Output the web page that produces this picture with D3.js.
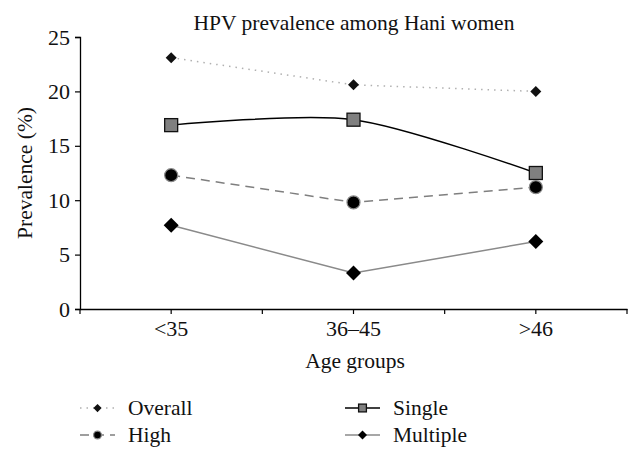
<!DOCTYPE html>
<html><head><meta charset="utf-8">
<script src="https://cdn.jsdelivr.net/npm/d3@7"></script>
<style>body{margin:0;background:#fff}svg{display:block}</style>
</head><body><svg id="c" width="642" height="460"></svg>
<script>
const categories = ["<35", "36\u201345", ">46"];
const overall = [23.1, 20.6, 20.0];
const single = [16.9, 17.4, 12.5];
const high = [12.3, 9.8, 11.2];
const multiple = [7.7, 3.3, 6.2];
const yTicks = [0, 5, 10, 15, 20, 25];

const FONT = "'Liberation Serif', 'DejaVu Serif', serif";
const svg = d3.select("#c");
const x = d3.scaleBand().domain(categories).range([80, 627]);
const y = d3.scaleLinear().domain([0, 25]).range([309, 37]);
const cx = d => x(d) + x.bandwidth() / 2;

function txt(sel, size) {
  return sel.style("font-family", FONT).style("font-size", size + "px").style("fill", "#111");
}

txt(svg.append("text").attr("x", 354).attr("y", 30).attr("text-anchor", "middle"), 21.5)
  .text("HPV prevalence among Hani women");

const ya = svg.append("g").attr("transform", "translate(80,0)")
  .call(d3.axisLeft(y).tickValues(yTicks).tickSize(5).tickPadding(5));
ya.select(".domain").attr("stroke", "#000").attr("stroke-width", 1.3);
ya.selectAll(".tick line").attr("stroke", "#000").attr("stroke-width", 1.2);
txt(ya.selectAll(".tick text"), 22);

const xa = svg.append("g").attr("transform", "translate(0,309)")
  .call(d3.axisBottom(x).tickSize(0).tickPadding(11));
xa.select(".domain").attr("stroke", "#000").attr("stroke-width", 1.5);
txt(xa.selectAll(".tick text"), 22).attr("dy", "0.71em");
const bounds = [80].concat(categories.map(c => x(c) + x.bandwidth()));
xa.selectAll(".bt").data(bounds).enter().append("line")
  .attr("x1", d => d).attr("x2", d => d).attr("y1", 0).attr("y2", 5)
  .attr("stroke", "#000").attr("stroke-width", 1.2);
xa.selectAll(".ct").data(categories).enter().append("line")
  .attr("x1", d => cx(d)).attr("x2", d => cx(d)).attr("y1", 0).attr("y2", 5)
  .attr("stroke", "#000").attr("stroke-width", 1.2);

txt(svg.append("text").attr("transform", "translate(32,173) rotate(-90)")
  .attr("text-anchor", "middle"), 21.5).text("Prevalence (%)");
txt(svg.append("text").attr("x", 355).attr("y", 368).attr("text-anchor", "middle"), 21.5)
  .text("Age groups");

const series = [
  {name: "Overall", vals: overall, stroke: "#b0b0b0", dash: "1.5,5", sw: 1.5, curve: d3.curveLinear, marker: "diamondS"},
  {name: "Single", vals: single, stroke: "#000", dash: null, sw: 1.5, curve: d3.curveCardinal.tension(0.15), marker: "square"},
  {name: "High", vals: high, stroke: "#7f7f7f", dash: "9,6", sw: 1.5, curve: d3.curveLinear, marker: "circle"},
  {name: "Multiple", vals: multiple, stroke: "#8a8a8a", dash: null, sw: 1.5, curve: d3.curveLinear, marker: "diamondL"}
];

function drawMarker(g, type, px, py, scale) {
  scale = scale || 1;
  if (type === "diamondS") {
    const s = 5.5 * scale;
    g.append("path").attr("d", `M${px},${py - s}L${px + s},${py}L${px},${py + s}L${px - s},${py}Z`).attr("fill", "#111");
  } else if (type === "diamondL") {
    const s = 7.5 * scale;
    g.append("path").attr("d", `M${px},${py - s}L${px + s},${py}L${px},${py + s}L${px - s},${py}Z`).attr("fill", "#000");
  } else if (type === "square") {
    const s = 6.5 * scale;
    g.append("rect").attr("x", px - s).attr("y", py - s).attr("width", 2 * s).attr("height", 2 * s)
      .attr("fill", "#808080").attr("stroke", "#111").attr("stroke-width", 1.3);
  } else if (type === "circle") {
    g.append("circle").attr("cx", px).attr("cy", py).attr("r", 6.5 * scale)
      .attr("fill", "#000").attr("stroke", "#888").attr("stroke-width", 1.2);
  }
}

const plot = svg.append("g");
series.forEach(s => {
  const pts = s.vals.map((v, i) => [cx(categories[i]), y(v)]);
  plot.append("path").attr("d", d3.line().curve(s.curve)(pts))
    .attr("fill", "none").attr("stroke", s.stroke).attr("stroke-width", s.sw)
    .attr("stroke-dasharray", s.dash);
});
series.forEach(s => {
  s.vals.forEach((v, i) => drawMarker(plot, s.marker, cx(categories[i]), y(v)));
});

const legPos = {Overall: [80, 408], High: [80, 435], Single: [345, 408], Multiple: [345, 435]};
series.forEach(s => {
  const [lx, ly] = legPos[s.name];
  const g = svg.append("g");
  g.append("line").attr("x1", lx).attr("x2", lx + 35).attr("y1", ly).attr("y2", ly)
    .attr("stroke", s.stroke).attr("stroke-width", s.sw).attr("stroke-dasharray", s.dash);
  drawMarker(g, s.marker, lx + 17.5, ly, s.marker === "diamondS" ? 0.75 : 0.6);
  txt(g.append("text").attr("x", lx + 48).attr("y", ly + 7), 21.5).text(s.name);
});
</script></body></html>
